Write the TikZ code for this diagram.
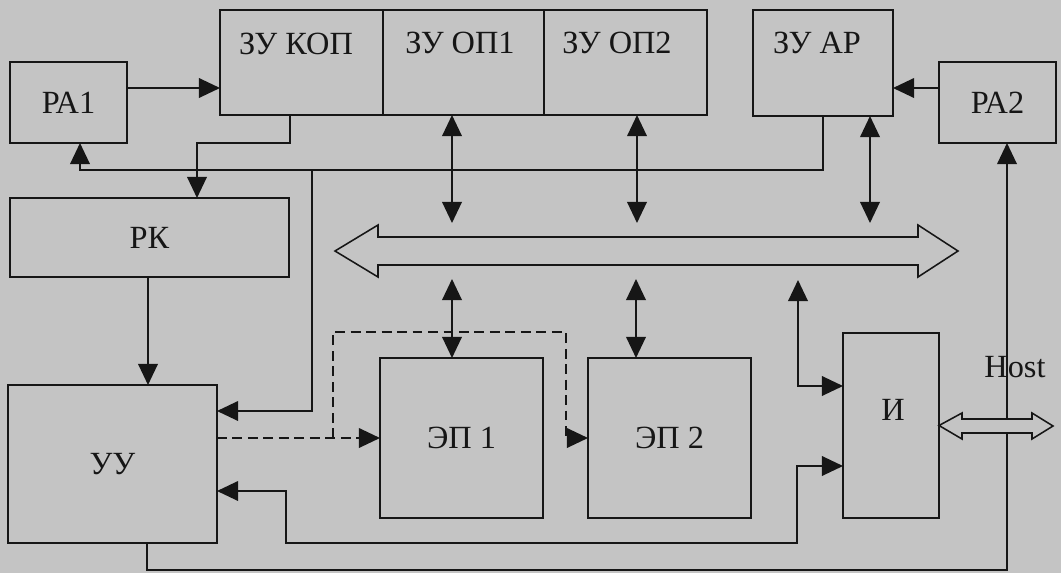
\documentclass[tikz,border=0pt]{standalone}
\usepackage{fontspec}
\setmainfont{Liberation Serif}
\usepackage{xcolor}
\usetikzlibrary{arrows.meta}
\definecolor{paper}{RGB}{196,196,196}
\definecolor{ink}{RGB}{22,22,22}

\begin{document}
\begin{tikzpicture}[x=0.025cm, y=-0.025cm, color=ink, line width=1.1pt,
  >={Triangle[length=15pt,width=14pt]},
  box/.style={draw, inner sep=0pt, outer sep=0pt},
  wide/.style={fill=paper, draw=ink, line width=1.1pt},
  font=\fontsize{23}{26}\selectfont]

\fill[paper] (0,0) rectangle (1061,573);
\useasboundingbox (0,0) rectangle (1061,573);

% top row
\node[box, minimum width=2.925cm, minimum height=2.025cm] (pa1) at (68.5,102.5) {РА1};
\node[box, minimum width=4.075cm, minimum height=2.625cm] (kop) at (301.5,62.5) {};
\node[box, minimum width=4.025cm, minimum height=2.625cm] (op1) at (463.5,62.5) {};
\node[box, minimum width=4.075cm, minimum height=2.625cm] (op2) at (625.5,62.5) {};
\node[box, minimum width=3.5cm, minimum height=2.65cm] (ar) at (823,63) {};
\node[box, minimum width=2.925cm, minimum height=2.025cm] (pa2) at (997.5,102.5) {РА2};
\node (kopt) at (296,44) {ЗУ КОП};
\node (op1t) at (460,43) {ЗУ ОП1};
\node (op2t) at (617,43) {ЗУ ОП2};
\node (art) at (817,43) {ЗУ АР};

% left column and processors
\node[box, minimum width=6.975cm, minimum height=1.975cm] (rk) at (149.5,237.5) {РК};
\node[box, minimum width=5.225cm, minimum height=3.95cm] (uu) at (112.5,464) {УУ};
\node[box, minimum width=4.075cm, minimum height=4cm] (ep1) at (461.5,438) {ЭП 1};
\node[box, minimum width=4.075cm, minimum height=4cm] (ep2) at (669.5,438) {ЭП 2};
\node[box, minimum width=2.4cm, minimum height=4.625cm] (io) at (891,425.5) {};
\node (iot) at (893,410) {И};
\node (host) at (1015,367) {Host};

\coordinate (bustop) at (0,223);
\coordinate (busbot) at (0,279);
\coordinate (jn) at (312,170);
\coordinate (dj) at (333,438);
\coordinate (ra1out) at (127,88);
\coordinate (ra2out) at (939,88);

% control lines
\draw[->] (ra1out) -- (ra1out -| kop.west);
\draw[->] (ra2out) -- (ra2out -| ar.east);
\draw[->] (kop.south -| 290,0) -- (290,143) -| (rk.north -| 197,0);
\draw[->] (ar.south) -- (ar.south |- jn) -| (pa1.south -| 80,0);
\draw[->] (jn) |- (uu.east |- 0,411);
\draw[->] (rk.south -| 148,0) -- (uu.north -| 148,0);
\draw[<->] (uu.east |- 0,491) -| (286,543) -| (797,466) -- (io.west |- 0,466);
\draw[->] (uu.south -| 147,0) -- (147,570) -| (pa2.south -| 1007,0);
\draw[<->] (798,280) |- (io.west |- 0,386);

% dashed start lines
\draw[->, dash pattern=on 7pt off 4pt] (uu.east |- dj) -- (ep1.west);
\draw[->, dash pattern=on 7pt off 4pt] (dj) -- (dj |- 0,332) -| (566,0 |- ep2.west) -- (ep2.west);

% data bus
\draw[wide] (335,251) -- (378,225) -- (378,237) -- (918,237) -- (918,225) -- (958,251)
  -- (918,277) -- (918,265) -- (378,265) -- (378,277) -- cycle;
\draw[<->] (op1.south -| 452,0) -- (452,0 |- bustop);
\draw[<->] (op2.south -| 637,0) -- (637,0 |- bustop);
\draw[<->] (ar.south -| 870,0) -- (870,0 |- bustop);
\draw[<->] (452,0 |- busbot) -- (ep1.north -| 452,0);
\draw[<->] (636,0 |- busbot) -- (ep2.north -| 636,0);

% host link
\draw[wide] (io.east) -- (962,413) -- (962,419) -- (1032,419) -- (1032,413) -- (1053,426)
  -- (1032,439) -- (1032,433) -- (962,433) -- (962,439) -- cycle;
\end{tikzpicture}
\end{document}
